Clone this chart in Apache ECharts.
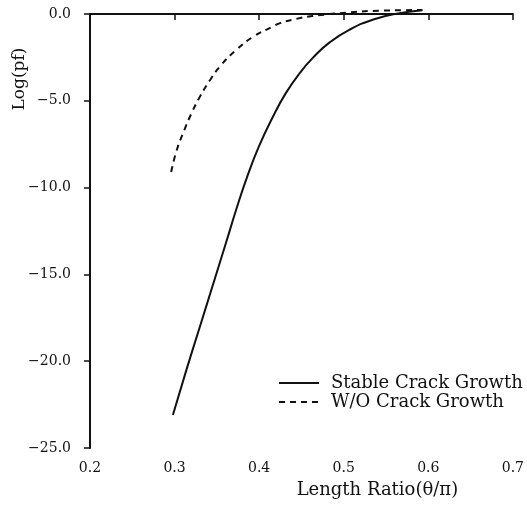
<!DOCTYPE html>
<html>
<head>
<meta charset="utf-8">
<script src="https://cdn.jsdelivr.net/npm/echarts@6/dist/echarts.min.js"></script>
<style>
  html, body { margin: 0; padding: 0; background: #fff; }
  #chart { width: 527px; height: 506px; }
</style>
</head>
<body>
<div id="chart"></div>
<script>
// Failure probability vs. crack length ratio
const xTicks = [0.2, 0.3, 0.4, 0.5, 0.6, 0.7];
const yTicks = [0, -5, -10, -15, -20, -25];

const stableX = [0.298, 0.314, 0.330, 0.345, 0.361, 0.373, 0.386, 0.400, 0.416, 0.431, 0.448, 0.464, 0.483, 0.507, 0.536, 0.566, 0.593];
const stableY = [-23.1, -20.5, -18.0, -15.65, -13.15, -11.25, -9.35, -7.6, -5.95, -4.6, -3.4, -2.5, -1.65, -0.9, -0.3, 0.05, 0.22];

const noGrowthX = [0.296, 0.302, 0.310, 0.320, 0.330, 0.342, 0.355, 0.373, 0.393, 0.416, 0.424, 0.444, 0.463, 0.503, 0.542, 0.593];
const noGrowthY = [-9.1, -7.93, -6.87, -5.72, -4.76, -3.80, -2.94, -2.07, -1.31, -0.73, -0.54, -0.28, -0.12, 0.08, 0.19, 0.23];

const seriesNames = ['Stable Crack Growth', 'W/O Crack Growth'];

const FONT = '"DejaVu Serif", "Liberation Serif", serif';

function pairs(xs, ys) {
  return xs.map((x, i) => [x, ys[i]]);
}

function fmtY(v) {
  if (v === 0) return '0.0';
  return '\u2212' + Math.abs(v).toFixed(1);
}

const chart = echarts.init(document.getElementById('chart'), null, { renderer: 'canvas' });

chart.setOption({
  backgroundColor: '#ffffff',
  animation: false,
  color: ['#111', '#111'],
  grid: { left: 90, right: 13, top: 14, bottom: 58, containLabel: false },
  xAxis: {
    type: 'value',
    min: xTicks[0],
    max: xTicks[xTicks.length - 1],
    interval: 0.1,
    name: 'Length Ratio(\u03b8/\u03c0)',
    nameLocation: 'middle',
    nameGap: 33,
    nameTextStyle: { fontFamily: FONT, fontSize: 18, color: '#111', padding: [0, 0, 0, 152] },
    axisLine: { lineStyle: { color: '#111', width: 2 } },
    axisTick: { inside: false, length: 6, lineStyle: { color: '#111', width: 1.5 } },
    axisLabel: {
      margin: 13, fontFamily: FONT, fontSize: 14, color: '#111',
      formatter: v => v.toFixed(1)
    },
    splitLine: { show: false }
  },
  yAxis: {
    type: 'value',
    min: yTicks[yTicks.length - 1],
    max: yTicks[0],
    interval: 5,
    axisLine: { lineStyle: { color: '#111', width: 2 } },
    axisTick: { inside: false, length: 6, lineStyle: { color: '#111', width: 1.5 } },
    axisLabel: {
      margin: 19, fontFamily: FONT, fontSize: 14, color: '#111',
      formatter: fmtY
    },
    splitLine: { show: false }
  },
  legend: {
    orient: 'vertical',
    left: 278,
    top: 374,
    padding: 0,
    itemWidth: 40,
    itemHeight: 14,
    itemGap: 1,
    itemStyle: { opacity: 0 },
    textStyle: { fontFamily: FONT, fontSize: 18, color: '#111', padding: [0, 0, 0, 7] },
    data: seriesNames
  },
  graphic: [{
    type: 'text',
    x: 20,
    y: 79,
    rotation: Math.PI / 2,
    style: {
      text: 'Log(pf)',
      font: '17px ' + FONT,
      fill: '#111',
      textAlign: 'center',
      textVerticalAlign: 'middle'
    }
  }],
  series: [
    {
      name: seriesNames[0],
      type: 'line',
      smooth: 0.5,
      clip: false,
      symbol: 'none',
      data: pairs(stableX, stableY),
      lineStyle: { color: '#111', width: 2 }
    },
    {
      name: seriesNames[1],
      type: 'line',
      smooth: 0.5,
      clip: false,
      symbol: 'none',
      data: pairs(noGrowthX, noGrowthY),
      lineStyle: { color: '#111', width: 2, type: [6, 5] }
    }
  ]
});
</script>
</body>
</html>
